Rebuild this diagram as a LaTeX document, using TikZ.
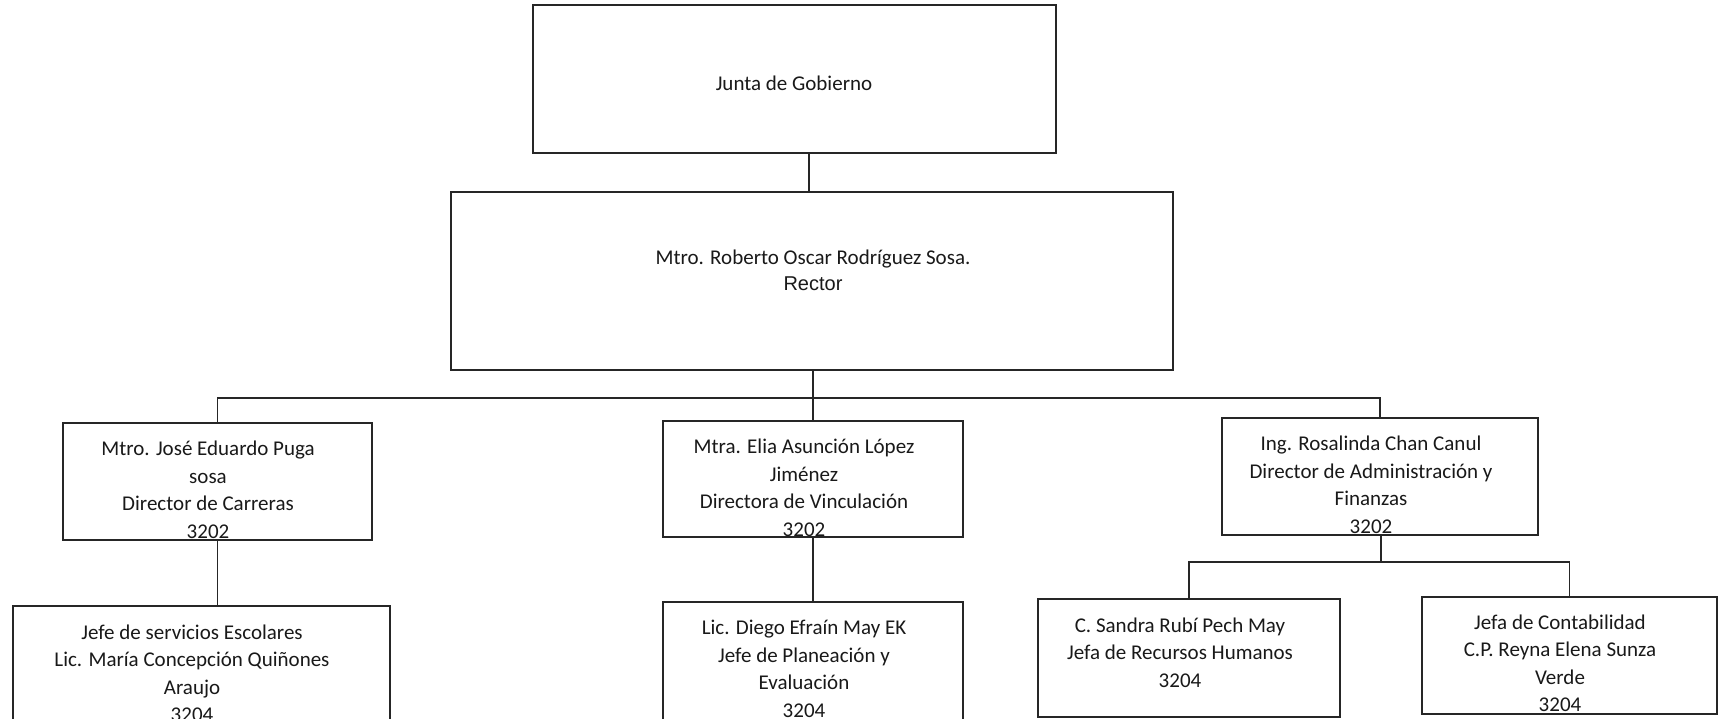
\documentclass[tikz,border=0pt]{standalone}
\usepackage{fontspec}
\setmainfont{Carlito}
\newfontfamily\arialf{Liberation Sans}
\begin{document}
\begin{tikzpicture}[x=1pt,y=-1pt]
\tikzset{
 orgbox/.style 2 args={draw=black!85, line width=1.5pt, rectangle, inner sep=0pt, outer sep=0pt, minimum width=#1, minimum height=#2},
 txt/.style={align=center, inner sep=0pt, font=\fontsize{21}{27.5}\selectfont, text=black!90},
 wire/.style={line width=1.5pt, draw=black!85},
}
\fill[white] (0,0) rectangle (1720,718);
\useasboundingbox (0,0) rectangle (1720,718);

% boxes
\node[orgbox={523pt}{148pt}] (junta) at (794.5,79) {};
\node[orgbox={722pt}{178pt}] (rector) at (812,281) {};
\node[orgbox={309pt}{117pt}] (b1) at (217.5,481.5) {};
\node[orgbox={300pt}{116pt}] (b2) at (813,479) {};
\node[orgbox={316pt}{117pt}] (b3) at (1380,476.5) {};
\node[orgbox={377pt}{118pt}] (b1b) at (201.5,665) {};
\node[orgbox={300pt}{122pt}] (b2b) at (813,663) {};
\node[orgbox={302pt}{118pt}] (b3a) at (1189,658) {};
\node[orgbox={295pt}{117pt}] (b3b) at (1569.5,655.5) {};

% texts
\node[txt] (tj) at (794,83) {Junta de Gobierno};
\node[txt] (tr) at (813,270.5) {Mtro. Roberto Oscar Rodríguez Sosa.\\[-2pt]{\arialf\fontsize{20}{25}\selectfont Rector}};
\node[txt] (t1) at (208,490) {Mtro. José Eduardo Puga\\sosa\\Director de Carreras\\3202};
\node[txt] (t2) at (804,488) {Mtra. Elia Asunción López\\Jiménez\\Directora de Vinculación\\3202};
\node[txt] (t3) at (1371,485) {Ing. Rosalinda Chan Canul\\Director de Administración y\\Finanzas\\3202};
\node[txt] (t1b) at (192,673.5) {Jefe de servicios Escolares\\Lic. María Concepción Quiñones\\Araujo\\3204};
\node[txt] (t2b) at (804,669) {Lic. Diego Efraín May EK\\Jefe de Planeación y\\Evaluación\\3204};
\node[txt] (t3a) at (1180,652.5) {C. Sandra Rubí Pech May\\Jefa de Recursos Humanos\\3204};
\node[txt] (t3b) at (1560,663.5) {Jefa de Contabilidad\\C.P. Reyna Elena Sunza\\Verde\\3204};

% connectors
\coordinate (jr) at (809,170);
\draw[wire] (jr |- junta.south) -- (jr |- rector.north);
\coordinate (bus) at (813,398);
\draw[wire] (bus |- rector.south) -- (bus);
\draw[wire] (b1.north) |- (bus) -| (b3.north);
\draw[wire] (bus) -- (b2.north);
\draw[wire] (b1.south) -- (b1.south |- b1b.north);
\draw[wire] (b2.south) -- (b2b.north);
\coordinate (sub) at (1381,562);
\draw[wire] (b3.south -| sub) -- (sub);
\draw[wire] (b3a.north) |- (sub) -| (b3b.north);
\end{tikzpicture}
\end{document}
